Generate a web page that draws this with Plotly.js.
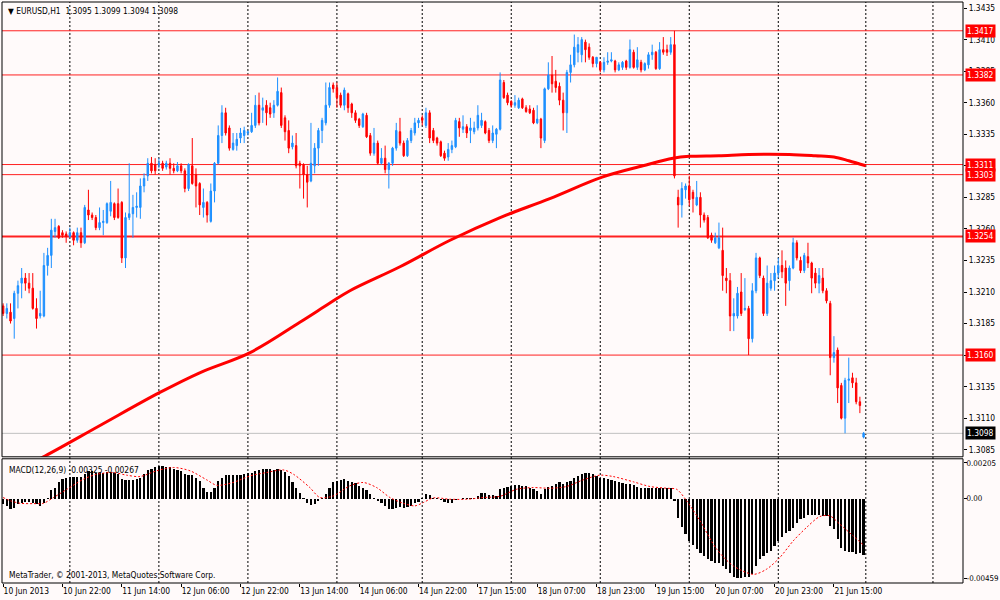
<!DOCTYPE html>
<html><head><meta charset="utf-8">
<script src="https://cdn.plot.ly/plotly-3.0.1.min.js"></script>
<style>html,body{margin:0;padding:0;background:#fffafa;} #chart{width:1000px;height:600px;}</style>
</head><body><div id="chart"></div>
<script>
const symbolText = "EURUSD,H1";
const open = [1.3199,1.3193,1.3194,1.3189,1.3209,1.3217,1.3221,1.3217,1.3213,1.3197,
1.3191,1.3191,1.3231,1.3239,1.3258,1.3262,1.3257,1.3256,1.3254,1.3257,
1.3251,1.3257,1.3249,1.3275,1.3271,1.3269,1.3261,1.3265,1.3265,1.3274,
1.3280,1.3280,1.3281,1.3237,1.3269,1.3272,1.3277,1.3277,1.3294,1.3302,
1.3312,1.3311,1.3311,1.3312,1.3309,1.3312,1.3308,1.3306,1.3310,1.3306,
1.3292,1.3310,1.3303,1.3296,1.3277,1.3281,1.3266,1.3290,1.3312,1.3334,
1.3352,1.3340,1.3323,1.3326,1.3332,1.3334,1.3336,1.3337,1.3342,1.3358,
1.3354,1.3358,1.3356,1.3352,1.3358,1.3368,1.3348,1.3338,1.3325,1.3326,
1.3312,1.3311,1.3303,1.3298,1.3310,1.3324,1.3338,1.3344,1.3358,1.3374,
1.3372,1.3366,1.3358,1.3367,1.3359,1.3352,1.3347,1.3341,1.3350,1.3334,
1.3320,1.3328,1.3312,1.3316,1.3307,1.3312,1.3324,1.3337,1.3328,1.3318,
1.3330,1.3336,1.3344,1.3348,1.3342,1.3352,1.3338,1.3332,1.3329,1.3320,
1.3317,1.3323,1.3325,1.3345,1.3339,1.3341,1.3338,1.3337,1.3340,1.3342,
1.3345,1.3338,1.3330,1.3335,1.3339,1.3376,1.3366,1.3361,1.3358,1.3356,
1.3363,1.3356,1.3355,1.3354,1.3344,1.3347,1.3330,1.3371,1.3382,1.3377,
1.3373,1.3362,1.3352,1.3384,1.3390,1.3400,1.3398,1.3408,1.3404,1.3396,
1.3391,1.3392,1.3386,1.3392,1.3393,1.3393,1.3386,1.3388,1.3393,1.3388,
1.3400,1.3388,1.3392,1.3386,1.3390,1.3398,1.3400,1.3387,1.3402,1.3402,
1.3400,1.3406,1.3285,1.3279,1.3291,1.3294,1.3289,1.3279,1.3285,1.3271,
1.3269,1.3255,1.3249,1.3245,1.3243,1.3221,1.3219,1.3191,1.3191,1.3210,
1.3196,1.3197,1.3173,1.3211,1.3237,1.3221,1.3193,1.3213,1.3219,1.3225,
1.3231,1.3229,1.3219,1.3229,1.3249,1.3235,1.3227,1.3238,1.3233,1.3225,
1.3217,1.3221,1.3211,1.3201,1.3158,1.3164,1.3136,1.3110,1.3140,1.3142,
1.3138,1.3123,1.3095];
const high = [1.3201,1.3201,1.3201,1.3211,1.3219,1.3229,1.3225,1.3225,1.3225,1.3205,
1.3211,1.3241,1.3245,1.3268,1.3268,1.3263,1.3259,1.3258,1.3261,1.3258,
1.3261,1.3261,1.3279,1.3291,1.3273,1.3271,1.3277,1.3275,1.3281,1.3298,
1.3281,1.3292,1.3282,1.3273,1.3312,1.3287,1.3289,1.3300,1.3304,1.3316,
1.3317,1.3316,1.3316,1.3314,1.3314,1.3316,1.3312,1.3313,1.3312,1.3308,
1.3312,1.3332,1.3308,1.3297,1.3292,1.3282,1.3296,1.3313,1.3342,1.3358,
1.3356,1.3342,1.3336,1.3336,1.3340,1.3341,1.3338,1.3352,1.3366,1.3368,
1.3364,1.3362,1.3360,1.3362,1.3380,1.3372,1.3350,1.3346,1.3334,1.3336,
1.3314,1.3312,1.3310,1.3344,1.3328,1.3340,1.3348,1.3376,1.3376,1.3376,
1.3376,1.3368,1.3372,1.3368,1.3360,1.3354,1.3348,1.3352,1.3352,1.3336,
1.3340,1.3330,1.3324,1.3326,1.3313,1.3325,1.3344,1.3348,1.3330,1.3332,
1.3340,1.3348,1.3348,1.3350,1.3356,1.3354,1.3340,1.3333,1.3330,1.3322,
1.3328,1.3330,1.3348,1.3348,1.3350,1.3343,1.3348,1.3345,1.3358,1.3352,
1.3346,1.3340,1.3342,1.3340,1.3384,1.3378,1.3368,1.3362,1.3366,1.3364,
1.3364,1.3358,1.3358,1.3356,1.3358,1.3348,1.3372,1.3392,1.3397,1.3386,
1.3376,1.3368,1.3386,1.3398,1.3414,1.3412,1.3412,1.3410,1.3407,1.3397,
1.3396,1.3393,1.3396,1.3400,1.3400,1.3394,1.3392,1.3393,1.3394,1.3410,
1.3402,1.3404,1.3394,1.3392,1.3400,1.3406,1.3401,1.3408,1.3412,1.3406,
1.3412,1.3417,1.3291,1.3297,1.3296,1.3302,1.3291,1.3298,1.3289,1.3273,
1.3271,1.3257,1.3257,1.3265,1.3261,1.3229,1.3225,1.3205,1.3214,1.3225,
1.3221,1.3199,1.3217,1.3241,1.3238,1.3223,1.3231,1.3225,1.3231,1.3237,
1.3243,1.3235,1.3231,1.3253,1.3251,1.3238,1.3241,1.3249,1.3234,1.3229,
1.3229,1.3229,1.3213,1.3203,1.3175,1.3166,1.3138,1.3142,1.3158,1.3146,
1.3142,1.3127,1.3099];
const low = [1.3191,1.3189,1.3185,1.3173,1.3197,1.3205,1.3211,1.3209,1.3196,1.3181,
1.3189,1.3190,1.3223,1.3229,1.3253,1.3252,1.3253,1.3249,1.3253,1.3247,
1.3249,1.3245,1.3248,1.3267,1.3267,1.3259,1.3259,1.3255,1.3264,1.3270,
1.3267,1.3268,1.3233,1.3229,1.3267,1.3253,1.3269,1.3268,1.3289,1.3298,
1.3304,1.3303,1.3308,1.3306,1.3307,1.3303,1.3304,1.3305,1.3304,1.3289,
1.3290,1.3295,1.3277,1.3271,1.3269,1.3265,1.3265,1.3281,1.3311,1.3328,
1.3334,1.3322,1.3322,1.3322,1.3328,1.3328,1.3334,1.3336,1.3340,1.3342,
1.3344,1.3342,1.3348,1.3348,1.3357,1.3340,1.3330,1.3320,1.3323,1.3308,
1.3292,1.3284,1.3277,1.3297,1.3304,1.3310,1.3328,1.3342,1.3356,1.3368,
1.3356,1.3356,1.3354,1.3352,1.3348,1.3344,1.3340,1.3340,1.3332,1.3318,
1.3318,1.3311,1.3311,1.3304,1.3292,1.3310,1.3322,1.3326,1.3317,1.3317,
1.3328,1.3334,1.3340,1.3342,1.3340,1.3328,1.3328,1.3326,1.3317,1.3314,
1.3314,1.3320,1.3324,1.3333,1.3336,1.3332,1.3328,1.3335,1.3338,1.3340,
1.3335,1.3328,1.3328,1.3324,1.3338,1.3363,1.3358,1.3356,1.3356,1.3355,
1.3355,1.3352,1.3351,1.3343,1.3343,1.3324,1.3328,1.3370,1.3368,1.3368,
1.3358,1.3338,1.3336,1.3376,1.3388,1.3392,1.3392,1.3392,1.3394,1.3388,
1.3388,1.3384,1.3384,1.3390,1.3392,1.3384,1.3385,1.3386,1.3386,1.3387,
1.3387,1.3386,1.3384,1.3385,1.3387,1.3394,1.3386,1.3386,1.3398,1.3397,
1.3398,1.3300,1.3261,1.3269,1.3284,1.3278,1.3273,1.3278,1.3261,1.3265,
1.3252,1.3249,1.3248,1.3244,1.3211,1.3209,1.3179,1.3179,1.3189,1.3191,
1.3195,1.3160,1.3170,1.3209,1.3221,1.3191,1.3191,1.3211,1.3211,1.3221,
1.3221,1.3199,1.3211,1.3228,1.3235,1.3225,1.3225,1.3229,1.3209,1.3213,
1.3209,1.3209,1.3201,1.3144,1.3154,1.3122,1.3109,1.3098,1.3122,1.3134,
1.3121,1.3114,1.3094];
const close = [1.3193,1.3197,1.3187,1.3209,1.3215,1.3221,1.3217,1.3213,1.3197,1.3189,
1.3193,1.3231,1.3239,1.3259,1.3261,1.3253,1.3255,1.3254,1.3257,1.3251,
1.3257,1.3249,1.3277,1.3271,1.3269,1.3261,1.3265,1.3266,1.3280,1.3281,
1.3269,1.3269,1.3237,1.3269,1.3272,1.3277,1.3278,1.3294,1.3300,1.3312,
1.3306,1.3306,1.3312,1.3308,1.3312,1.3308,1.3306,1.3310,1.3306,1.3292,
1.3311,1.3296,1.3294,1.3279,1.3281,1.3271,1.3290,1.3312,1.3334,1.3352,
1.3336,1.3324,1.3328,1.3331,1.3336,1.3338,1.3337,1.3342,1.3358,1.3344,
1.3356,1.3352,1.3351,1.3358,1.3369,1.3342,1.3337,1.3324,1.3328,1.3310,
1.3310,1.3303,1.3297,1.3312,1.3324,1.3338,1.3346,1.3358,1.3372,1.3371,
1.3364,1.3358,1.3370,1.3356,1.3352,1.3346,1.3342,1.3351,1.3333,1.3320,
1.3328,1.3312,1.3316,1.3307,1.3312,1.3324,1.3338,1.3328,1.3318,1.3330,
1.3338,1.3344,1.3346,1.3346,1.3352,1.3332,1.3330,1.3328,1.3318,1.3316,
1.3323,1.3326,1.3346,1.3340,1.3341,1.3336,1.3340,1.3340,1.3350,1.3346,
1.3336,1.3330,1.3336,1.3339,1.3378,1.3364,1.3360,1.3358,1.3360,1.3362,
1.3356,1.3353,1.3352,1.3344,1.3347,1.3332,1.3371,1.3382,1.3375,1.3372,
1.3362,1.3352,1.3384,1.3390,1.3404,1.3406,1.3410,1.3402,1.3396,1.3391,
1.3396,1.3386,1.3392,1.3393,1.3394,1.3386,1.3390,1.3392,1.3388,1.3402,
1.3388,1.3394,1.3386,1.3391,1.3398,1.3400,1.3387,1.3402,1.3400,1.3400,
1.3406,1.3302,1.3279,1.3292,1.3294,1.3283,1.3284,1.3285,1.3271,1.3267,
1.3253,1.3251,1.3253,1.3253,1.3223,1.3219,1.3191,1.3193,1.3209,1.3193,
1.3197,1.3173,1.3211,1.3237,1.3223,1.3193,1.3217,1.3219,1.3225,1.3231,
1.3226,1.3217,1.3229,1.3249,1.3237,1.3227,1.3239,1.3233,1.3221,1.3217,
1.3223,1.3211,1.3203,1.3158,1.3162,1.3134,1.3110,1.3140,1.3141,1.3138,
1.3123,1.3120,1.3098];

// moving average line, read at vertices (bar index, price)
const maBar = [0,11.3,26,42,53,66.6,80,88,93.5,107,120.5,134,147.4,161.5,172.5,180.6,185,193,201,212,219,224,228,232.6];
const maVal = [1.3063,1.3080,1.3104,1.3130,1.3146,1.3162,1.3186,1.3201,1.3211,1.3230,1.3251,1.3269,1.3284,1.3301,1.3310,1.3316,1.33175,1.3318,1.3319,1.3319,1.3318,1.3317,1.3314,1.3310];

// MACD histogram, one per bar
const macd = [-0.00032,-0.00042,-0.00057,-0.00052,-0.00032,-0.00023,-0.00019,-0.00019,-0.00023,-0.00032,
-0.00042,-0.00027,0.00006,0.0005,0.00063,0.00096,0.00111,0.0012,0.00126,0.00126,
0.00126,0.00126,0.00139,0.00155,0.00155,0.00149,0.00145,0.00149,0.00153,0.00153,
0.00149,0.00139,0.00111,0.00107,0.00107,0.00107,0.00111,0.0012,0.00139,0.00164,
0.00172,0.00181,0.00187,0.00187,0.00183,0.00178,0.00172,0.00164,0.00159,0.00139,
0.00134,0.00134,0.0012,0.00101,0.00063,0.00038,0.00038,0.00063,0.00101,0.0012,
0.00134,0.00134,0.00134,0.00134,0.00134,0.00139,0.00145,0.00149,0.00159,0.00164,
0.00168,0.00168,0.00168,0.00164,0.00168,0.00164,0.00153,0.0013,0.00096,0.00063,
0.00031,0.00002,-0.00023,-0.00036,-0.00032,-0.00013,0.00002,0.00025,0.00063,0.00096,
0.00101,0.00107,0.00111,0.00101,0.00092,0.00088,0.00073,0.00063,0.0005,0.00025,
0.00006,-0.00013,-0.00027,-0.00042,-0.00057,-0.00061,-0.00052,-0.00046,-0.00052,-0.00046,
-0.00042,-0.00023,-0.00019,0.00002,0.00025,0.00019,0.00006,0.00002,-0.00008,-0.00017,
-0.00023,-0.00027,-0.00008,-0.00002,0.00002,0.00002,0.00006,0.00006,0.00015,0.00031,
0.00029,0.00019,0.00019,0.00015,
0.00053,0.00063,0.00069,0.00073,0.00076,0.00076,0.00073,0.00073,0.00063,0.00053,
0.00044,0.00025,0.00053,0.00069,0.00073,0.00082,0.00092,0.00082,0.00092,0.00101,
0.0012,0.0013,0.00139,0.00149,0.00149,0.00139,0.0013,0.0012,0.00115,0.00111,
0.00107,0.00101,0.00092,0.00088,0.00082,0.00082,0.00076,0.00069,0.00063,0.00063,
0.00063,0.00059,0.00059,0.00059,0.00059,0.00059,0.00059,-0.00013,-0.00109,-0.00162,
-0.00204,-0.00243,-0.00267,-0.00287,-0.00309,-0.00328,-0.00348,-0.00357,-0.00367,-0.00371,
-0.00386,-0.00405,-0.00424,-0.00447,-0.00453,-0.00453,-0.00447,-0.00449,-0.00434,-0.00386,
-0.00348,-0.00328,-0.00309,-0.003,-0.00271,-0.00243,-0.0022,-0.00199,-0.00185,-0.00166,
-0.00138,-0.00118,-0.00109,-0.00096,-0.00094,-0.00092,-0.00094,-0.00099,-0.00099,-0.00157,
-0.00176,-0.00229,-0.00281,-0.003,-0.00306,-0.00306,-0.00315,-0.0031,-0.00325];

// MACD signal line, read at vertices
const sigBar = [0,2,4.6,8.2,10.9,13.6,17.2,21.7,25.2,29.7,33.3,36.9,41.4,45.9,50.4,54.9,57.6,62,66.6,71,75.6,78.3,82.7,85.4,89,93.5,97.1,100.7,104.3,107.9,111,113.3,116,120.5,125,129.5,134,138.4,142.9,147.4,151.9,156.4,160.9,164.5,169.9,174.4,178.9,181.6,184.3,187.9,192.4,196.9,202.3,205.8,209.4,213,216.6,220.2,222.9,225.6,229.2,232];
const sigVal = [0.00006,-0.00013,-0.00027,-0.00029,-0.00027,0.00006,0.00053,0.00111,0.00139,0.00149,0.00134,0.00126,0.00159,0.00178,0.00159,0.00107,0.00076,0.00092,0.0013,0.00149,0.00164,0.00139,0.00063,0.00006,0.00015,0.00073,0.00092,0.00063,0.00006,-0.00027,-0.00042,-0.00023,0.00004,-0.00004,-0.00004,0.00006,0.00013,0.00053,0.00063,0.00059,0.00069,0.00107,0.00134,0.00126,0.00096,0.00069,0.00059,0.00053,-0.00013,-0.00128,-0.0029,-0.00386,-0.00434,-0.00405,-0.00338,-0.00243,-0.00166,-0.00103,-0.00099,-0.00147,-0.00214,-0.00267];

// horizontal price levels and the bid line
const levels = [1.3417, 1.3382, 1.3311, 1.3303, 1.3254, 1.3160];
const levelWidths = [1, 1, 1, 1, 2, 1];
const bidPrice = 1.3098;

// MACD scale labels
const macdTicks = [0.00205, 0, -0.00459];
const macdTickText = ['0.00205', '0.00', '-0.00459'];

// time axis
const tickBars = [0,16,32,48,64,80,96,112,128,144,160,176,192,208,224];
const tickLabels = ["10 Jun 2013","10 Jun 22:00","11 Jun 14:00","12 Jun 06:00","12 Jun 22:00","13 Jun 14:00","14 Jun 06:00","14 Jun 22:00","17 Jun 15:00","18 Jun 07:00","18 Jun 23:00","19 Jun 15:00","20 Jun 07:00","20 Jun 23:00","21 Jun 15:00"];
const dayGridBars = [18,42,66,90,113,137,161,185,209,232.6,250.7];

const barX = open.map((_, i) => i);
const last = open.length - 1;
const FONT = '"DejaVu Sans Condensed", "DejaVu Sans", sans-serif';
const FS = 8.4;

const traces = [
  {type:'scatter', mode:'lines', x:maBar, y:maVal, xaxis:'x', yaxis:'y',
   line:{color:'#ff0000', width:3, shape:'spline', smoothing:1}, hoverinfo:'skip'},
  {type:'candlestick', x:barX, open:open, high:high, low:low, close:close, xaxis:'x', yaxis:'y',
   increasing:{line:{color:'#1e90ff', width:1}, fillcolor:'#1e90ff'},
   decreasing:{line:{color:'#ff0000', width:1}, fillcolor:'#ff0000'},
   whiskerwidth:0, hoverinfo:'skip'},
  {type:'bar', x:barX, y:macd, xaxis:'x', yaxis:'y2', width:0.6,
   marker:{color:'#000000', line:{width:0}}, hoverinfo:'skip'},
  {type:'scatter', mode:'lines', x:sigBar, y:sigVal, xaxis:'x', yaxis:'y2',
   line:{color:'#ff0000', width:1, dash:'2px,2px', shape:'spline', smoothing:0.8}, hoverinfo:'skip'}
];

const shapes = [];
dayGridBars.forEach(b => shapes.push({type:'line', xref:'x', yref:'paper', x0:b, x1:b, y0:0, y1:1,
  line:{color:'#000000', width:1, dash:'2px,2px'}, layer:'below'}));
levels.forEach((lv, k) => shapes.push({type:'line', xref:'paper', yref:'y', x0:0, x1:1, y0:lv, y1:lv,
  line:{color:'#ff2020', width:levelWidths[k]}, layer:'below'}));
shapes.push({type:'line', xref:'paper', yref:'y', x0:0, x1:1, y0:bidPrice, y1:bidPrice,
  line:{color:'#c0c0c0', width:1}, layer:'below'});
shapes.push({type:'rect', xref:'paper', yref:'y domain', x0:0, x1:1, y0:0, y1:1, line:{color:'#000', width:1}});
shapes.push({type:'rect', xref:'paper', yref:'y2 domain', x0:0, x1:1, y0:0, y1:1, line:{color:'#000', width:1}});

const annotations = [];
levels.forEach(lv => annotations.push({xref:'paper', yref:'y', x:1, y:lv, xanchor:'left', yanchor:'middle', xshift:2,
  text:lv.toFixed(4), showarrow:false, bgcolor:'#ff0000', borderpad:1, font:{family:FONT, size:FS, color:'#ffffff'}}));
annotations.push({xref:'paper', yref:'y', x:1, y:bidPrice, xanchor:'left', yanchor:'middle', xshift:2,
  text:bidPrice.toFixed(4), showarrow:false, bgcolor:'#000000', borderpad:1, font:{family:FONT, size:FS, color:'#ffffff'}});
annotations.push({xref:'paper', yref:'paper', x:0.004, y:0.997, xanchor:'left', yanchor:'top', showarrow:false,
  text:'▼ ' + symbolText + '  ' + [open[last], high[last], low[last], close[last]].map(v => v.toFixed(4)).join(' '),
  font:{family:FONT, size:FS, color:'#000'}});
annotations.push({xref:'paper', yref:'y2 domain', x:0.005, y:0.97, xanchor:'left', yanchor:'top', showarrow:false,
  text:'MACD(12,26,9) ' + macd[last].toFixed(5) + ' ' + sigVal[sigVal.length-1].toFixed(5),
  font:{family:FONT, size:FS, color:'#000'}});
annotations.push({xref:'paper', yref:'y2 domain', x:0.005, y:0.01, xanchor:'left', yanchor:'bottom', showarrow:false,
  text:'MetaTrader, © 2001-2013, MetaQuotes Software Corp.', font:{family:FONT, size:FS, color:'#000'}});

const layout = {
  width:1000, height:600,
  paper_bgcolor:'#fffafa', plot_bgcolor:'#fffafa',
  margin:{l:2, r:37, t:2, b:17},
  showlegend:false, boxgap:0.45, bargap:0,
  font:{family:FONT, size:FS, color:'#000'},
  xaxis:{anchor:'y2', range:[-0.3, 258.8], showgrid:false, zeroline:false, showline:false,
    tickmode:'array', tickvals:tickBars, ticktext:tickLabels, ticks:'outside', ticklen:3, tickcolor:'#000',
    ticklabelposition:'outside right', rangeslider:{visible:false}, fixedrange:true,
    tickfont:{family:FONT, size:FS, color:'#000'}},
  yaxis:{domain:[0.2172, 1], anchor:'x', side:'right', range:[1.30794, 1.34398],
    tick0:1.3085, dtick:0.0025, tickformat:'.4f', ticks:'outside', ticklen:3, tickcolor:'#000',
    showgrid:false, zeroline:false, showline:false, fixedrange:true,
    tickfont:{family:FONT, size:FS, color:'#000'}},
  yaxis2:{domain:[0, 0.2138], anchor:'x', side:'right', range:[-0.004836, 0.002278],
    tickmode:'array', tickvals:macdTicks, ticktext:macdTickText, ticklabelstandoff:-2,
    ticks:'outside', ticklen:3, tickcolor:'#000', showgrid:false, zeroline:false, showline:false, fixedrange:true,
    tickfont:{family:FONT, size:7.9, color:'#000'}},
  shapes:shapes, annotations:annotations
};

Plotly.newPlot('chart', traces, layout, {staticPlot:true, displayModeBar:false});
</script>
</body></html>
